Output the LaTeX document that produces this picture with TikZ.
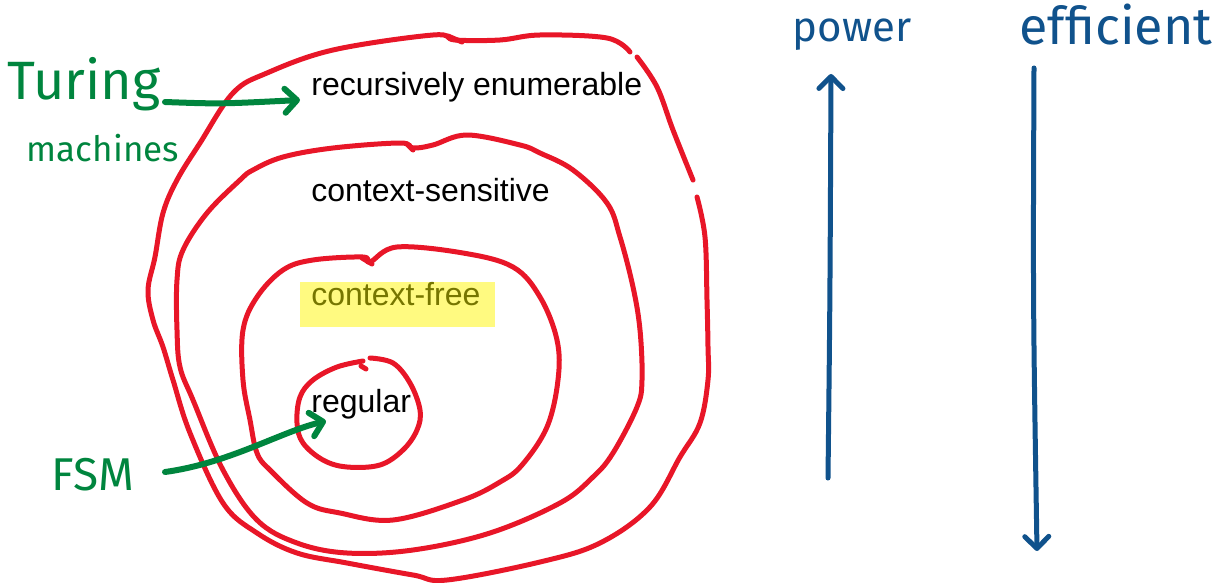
\documentclass[tikz,border=0pt]{standalone}
\usepackage{fontspec}
\setmainfont{Liberation Sans}
\newfontfamily\handfont{Fira Sans}
\usetikzlibrary{arrows.meta, positioning}

\definecolor{penred}{RGB}{232,22,40}
\definecolor{pengreen}{RGB}{0,133,62}
\definecolor{penblue}{RGB}{16,82,140}
\definecolor{hilite}{RGB}{255,250,128}
\definecolor{olivetext}{RGB}{118,118,0}

\begin{document}
\begin{tikzpicture}[x=0.5pt,y=-0.5pt,
    loop/.style={penred, line width=2.5pt, line cap=round, line join=round},
    greenink/.style={pengreen, line width=3pt, line cap=round, line join=round},
    blueink/.style={penblue, line width=2.5pt, line cap=round, line join=round},
    barb/.style={-{Straight Barb[length=6pt,width=12pt,round]}},
    lang/.style={font=\fontsize{16}{19}\selectfont, inner sep=0pt, anchor=base west},
    hand/.style={inner sep=0pt, anchor=base}]
    \useasboundingbox (0,0) rectangle (1215,583);
    %\draw [step=100] (0,0) grid (1215,583);

    % recursively enumerable (two gaps on the right)
    \draw[loop] plot[smooth, tension=0.6] coordinates {(697,197) (705,237) (707,300) (708,347) (708,380) (700,423) (680,457) (650,507) (600,543) (540,562) (447,580) (413,575) (347,563) (297,553) (257,533) (223,503) (190,433) (173,380) (163,347) (153,320) (148,290) (155,257) (163,213) (177,180) (200,143) (233,93) (267,73) (333,50) (433,35) (455,40) (500,40) (540,35) (607,38) (630,52)};
    \draw[loop] plot[smooth, tension=0.6] coordinates {(637,57) (657,87) (673,130) (693,180)};
    \draw[loop] (448,36) -- (462,42);
    % context-sensitive
    \draw[loop] plot[smooth cycle, tension=0.6] coordinates {(253,170) (283,157) (333,148) (400,143) (413,148) (433,145) (467,135) (520,145) (540,153) (573,170) (607,203) (620,237) (633,287) (640,330) (642,380) (637,407) (613,453) (593,477) (560,503) (490,533) (413,550) (347,553) (297,543) (257,520) (223,470) (193,400) (180,367) (177,330) (177,280) (183,250) (207,213) (240,180)};
    \draw[loop] (407,144) -- (413,150);
    % context-free
    \draw[loop] plot[smooth cycle, tension=0.6] coordinates {(313,260) (363,257) (370,262) (397,247) (463,253) (513,267) (540,297) (557,340) (558,380) (547,427) (522,465) (500,482) (463,500) (393,520) (340,513) (307,503) (270,470) (257,453) (250,420) (243,380) (243,330) (257,297) (283,270)};
    \draw[loop] (362,258) -- (372,264);
    % regular (gap on top)
    \draw[loop] plot[smooth, tension=0.6] coordinates {(370,358) (393,363) (410,383) (420,410) (417,430) (403,450) (380,465) (347,467) (323,460) (303,443) (297,423) (300,397) (313,380) (337,367) (363,361)};
    \draw[loop] (361,366) -- (366,369);

    \fill[hilite] (300,282) rectangle (495,327);
    \node[lang] (re) at (311,96) {recursively enumerable};
    \node[lang] (cs) at (311,201) {context-sensitive};
    \node[lang, text=olivetext] (cf) at (311,305) {context-free};
    \node[lang] (reg) at (311,412) {regular};

    \node[hand, text=pengreen, font=\handfont\fontsize{27}{30}\selectfont] (turing) at (84,100) {Turing};
    \node[hand, text=pengreen, font=\handfont\fontsize{17.5}{20}\selectfont] (machines) at (103,162) {machines};
    \node[hand, text=pengreen, font=\handfont\fontsize{23}{26}\selectfont] (fsm) at (93,490) {FSM};
    \node[hand, text=penblue, font=\handfont\fontsize{21}{24}\selectfont] (power) at (852,42) {power};
    \node[hand, text=penblue, font=\handfont\fontsize{26}{29}\selectfont] (efficient) at (1116,45) {efficient};

    \coordinate (tmtail) at (165,102);
    \coordinate (tmtip) at (300,100);
    \coordinate (fsmtail) at (165,472);
    \coordinate (fsmtip) at (326,421);
    \coordinate (powbot) at (828,478);
    \coordinate (powtop) at (831,74);
    \coordinate (efftop) at (1034,68);
    \coordinate (effbot) at (1037,551);

    \draw[greenink, barb] (tmtail) .. controls (220,104) .. (tmtip);
    \draw[greenink, barb] (fsmtail) .. controls (230,463) and (280,432) .. (fsmtip);
    \draw[blueink, barb] (powbot) .. controls (830,300) .. (powtop);
    \draw[blueink, barb] (efftop) .. controls (1033,300) .. (effbot);
\end{tikzpicture}
\end{document}
